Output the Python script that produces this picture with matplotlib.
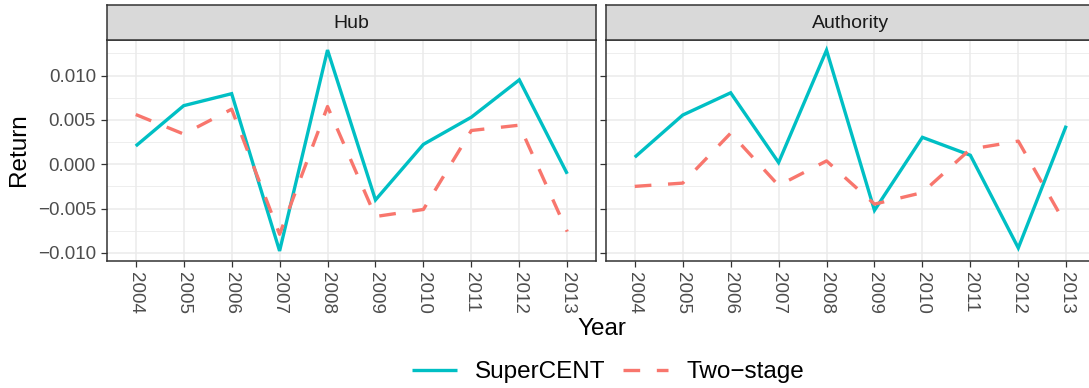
import numpy as np
import matplotlib.pyplot as plt
from matplotlib.ticker import MultipleLocator

# --- data ---
years = [2004, 2005, 2006, 2007, 2008, 2009, 2010, 2011, 2012, 2013]
panels = ['Hub', 'Authority']

hub_supercent = [0.00205, 0.0066, 0.00795, -0.00978, 0.01287, -0.00403, 0.00224, 0.0053, 0.00951, -0.00108]
hub_twostage = [0.0056, 0.0034, 0.0062, -0.0079, 0.0065, -0.0059, -0.0051, 0.0038, 0.0044, -0.0076]
auth_supercent = [0.00079, 0.00554, 0.00805, 0.00019, 0.01285, -0.0052, 0.00303, 0.00101, -0.00944, 0.00434]
auth_twostage = [-0.0025, -0.00213, 0.0035, -0.0024, 0.00037, -0.0045, -0.0032, 0.0017, 0.0026, -0.0069]

methods = ['SuperCENT', 'Two\u2212stage']
colores = {'SuperCENT': '#00BFC4', 'Two\u2212stage': '#F8766D'}

series = {
    'Hub': {'SuperCENT': hub_supercent, 'Two\u2212stage': hub_twostage},
    'Authority': {'SuperCENT': auth_supercent, 'Two\u2212stage': auth_twostage},
}

# --- figure ---
plt.rcParams['font.family'] = ['Liberation Sans', 'DejaVu Sans']
W, H = 1089, 388
fig = plt.figure(figsize=(W / 100, H / 100), dpi=100)

todos = np.concatenate([hub_supercent, hub_twostage, auth_supercent, auth_twostage])
rango = todos.max() - todos.min()
ylim = (todos.min() - 0.05 * rango, todos.max() + 0.05 * rango)

# panel geometry in pixels (right panel runs past the image edge, like the reference)
izq_px = [107, 606]
ancho_px = 489
arriba_px, abajo_px = 40, 261
strip_top_px = 5

lineas = []
for i, panel in enumerate(panels):
    ax = fig.add_axes([izq_px[i] / W, 1 - abajo_px / H, ancho_px / W,
                       (abajo_px - arriba_px) / H])
    ax.set_facecolor('white')
    for m in methods:
        if m == 'SuperCENT':
            ln, = ax.plot(years, series[panel][m], color=colores[m], lw=2.4,
                          solid_capstyle='butt', solid_joinstyle='miter',
                          label=m, zorder=3)
        else:
            ln, = ax.plot(years, series[panel][m], color=colores[m], lw=2.4,
                          dashes=(5, 5), dash_capstyle='butt', label=m, zorder=3)
        if i == 0:
            lineas.append(ln)

    ax.set_xlim(years[0] - 0.6, years[-1] + 0.6)
    ax.set_ylim(*ylim)
    ax.set_xticks(years)
    ax.set_xticklabels([str(y) for y in years], rotation=-90, va='top', ha='center')
    ax.yaxis.set_major_locator(MultipleLocator(0.005))
    ax.yaxis.set_minor_locator(MultipleLocator(0.0025))
    ax.grid(True, which='major', color='#EBEBEB', lw=1.1, zorder=0)
    ax.grid(True, which='minor', axis='y', color='#EBEBEB', lw=0.6, zorder=0)
    ax.tick_params(which='major', direction='out', length=4, width=0.9, color='#333333',
                   labelsize=13.5, labelcolor='#4D4D4D')
    ax.tick_params(axis='x', pad=4)
    ax.tick_params(axis='y', pad=4)
    ax.tick_params(which='minor', length=0)
    for s in ax.spines.values():
        s.set_color('#333333')
        s.set_linewidth(1.1)
    if i == 0:
        ax.yaxis.set_major_formatter(plt.FuncFormatter(
            lambda v, p: ('%.3f' % v).replace('-', '\u2212')))
    else:
        ax.tick_params(axis='y', labelleft=False)

    # strip
    sax = fig.add_axes([izq_px[i] / W, 1 - arriba_px / H, ancho_px / W,
                        (arriba_px - strip_top_px) / H])
    sax.set_facecolor('#D9D9D9')
    sax.set_xticks([])
    sax.set_yticks([])
    for s in sax.spines.values():
        s.set_color('#333333')
        s.set_linewidth(1.1)
    sax.text(0.5, 0.47, panel, ha='center', va='center', fontsize=14,
             color='#1A1A1A', transform=sax.transAxes)

fig.text(19 / W, 1 - 150 / H, 'Return', rotation=90, ha='center', va='center',
         fontsize=17.5)
fig.text(602 / W, 1 - 329 / H, 'Year', ha='center', va='center', fontsize=17.5)

fig.legend(lineas, methods, loc='center', ncol=2, frameon=False,
           bbox_to_anchor=(608 / W, 1 - 372 / H),
           fontsize=17.5, handlelength=1.85, columnspacing=0.75, handletextpad=0.75,
           borderpad=0, borderaxespad=0)

fig.savefig('out.png', dpi=100)
